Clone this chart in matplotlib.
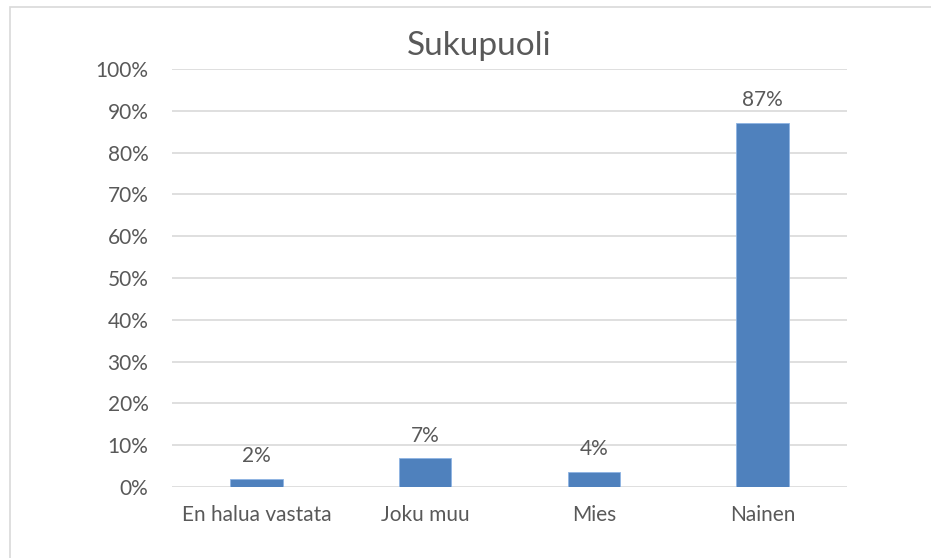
import matplotlib.pyplot as plt
from matplotlib.patches import Rectangle
from matplotlib.ticker import FuncFormatter

categories = ['En halua vastata', 'Joku muu', 'Mies', 'Nainen']
values = [2.0, 6.9, 3.7, 87.2]
labels = ['2%', '7%', '4%', '87%']
yticks = list(range(0, 101, 10))

text_color = '#595959'
plt.rcParams['font.family'] = ['Lato', 'DejaVu Sans']

fig = plt.figure(figsize=(9.31, 5.58), dpi=100)
ax = fig.add_axes([172 / 931, 1 - 487 / 558, 675 / 931, 418 / 558])

# outer chart border (runs off the right/bottom edge like the screenshot)
fig.patches.append(Rectangle((10 / 931, -0.1), 1.2, 1.1 - 7.5 / 558,
                             transform=fig.transFigure, fill=False,
                             edgecolor='#D9D9D9', linewidth=1.2))

x = range(len(categories))
ax.bar(x, values, width=0.31, color='#4F81BD', edgecolor='#8EB4E3', linewidth=0.6, zorder=3)

for i, (v, lab) in enumerate(zip(values, labels)):
    ax.annotate(lab, (i, v), xytext=(0, 9), textcoords='offset points',
                ha='center', va='bottom', fontsize=15, color=text_color)

ax.set_xlim(-0.5, 3.5)
ax.set_ylim(0, 100)
ax.set_yticks(yticks)
ax.yaxis.set_major_formatter(FuncFormatter(lambda v, p: f'{int(v)}%'))
ax.set_xticks(list(x))
ax.set_xticklabels(categories)
ax.grid(axis='y', color='#D9D9D9', linewidth=1.2, zorder=0)
for s in ax.spines.values():
    s.set_visible(False)
ax.tick_params(axis='both', length=0, labelsize=15, colors=text_color)
ax.tick_params(axis='y', pad=17)
ax.tick_params(axis='x', pad=13)

fig.text(479 / 931, 1 - 46 / 558, 'Sukupuoli', ha='center', va='center',
         fontsize=24, color=text_color)

fig.savefig('out.png', dpi=100)
